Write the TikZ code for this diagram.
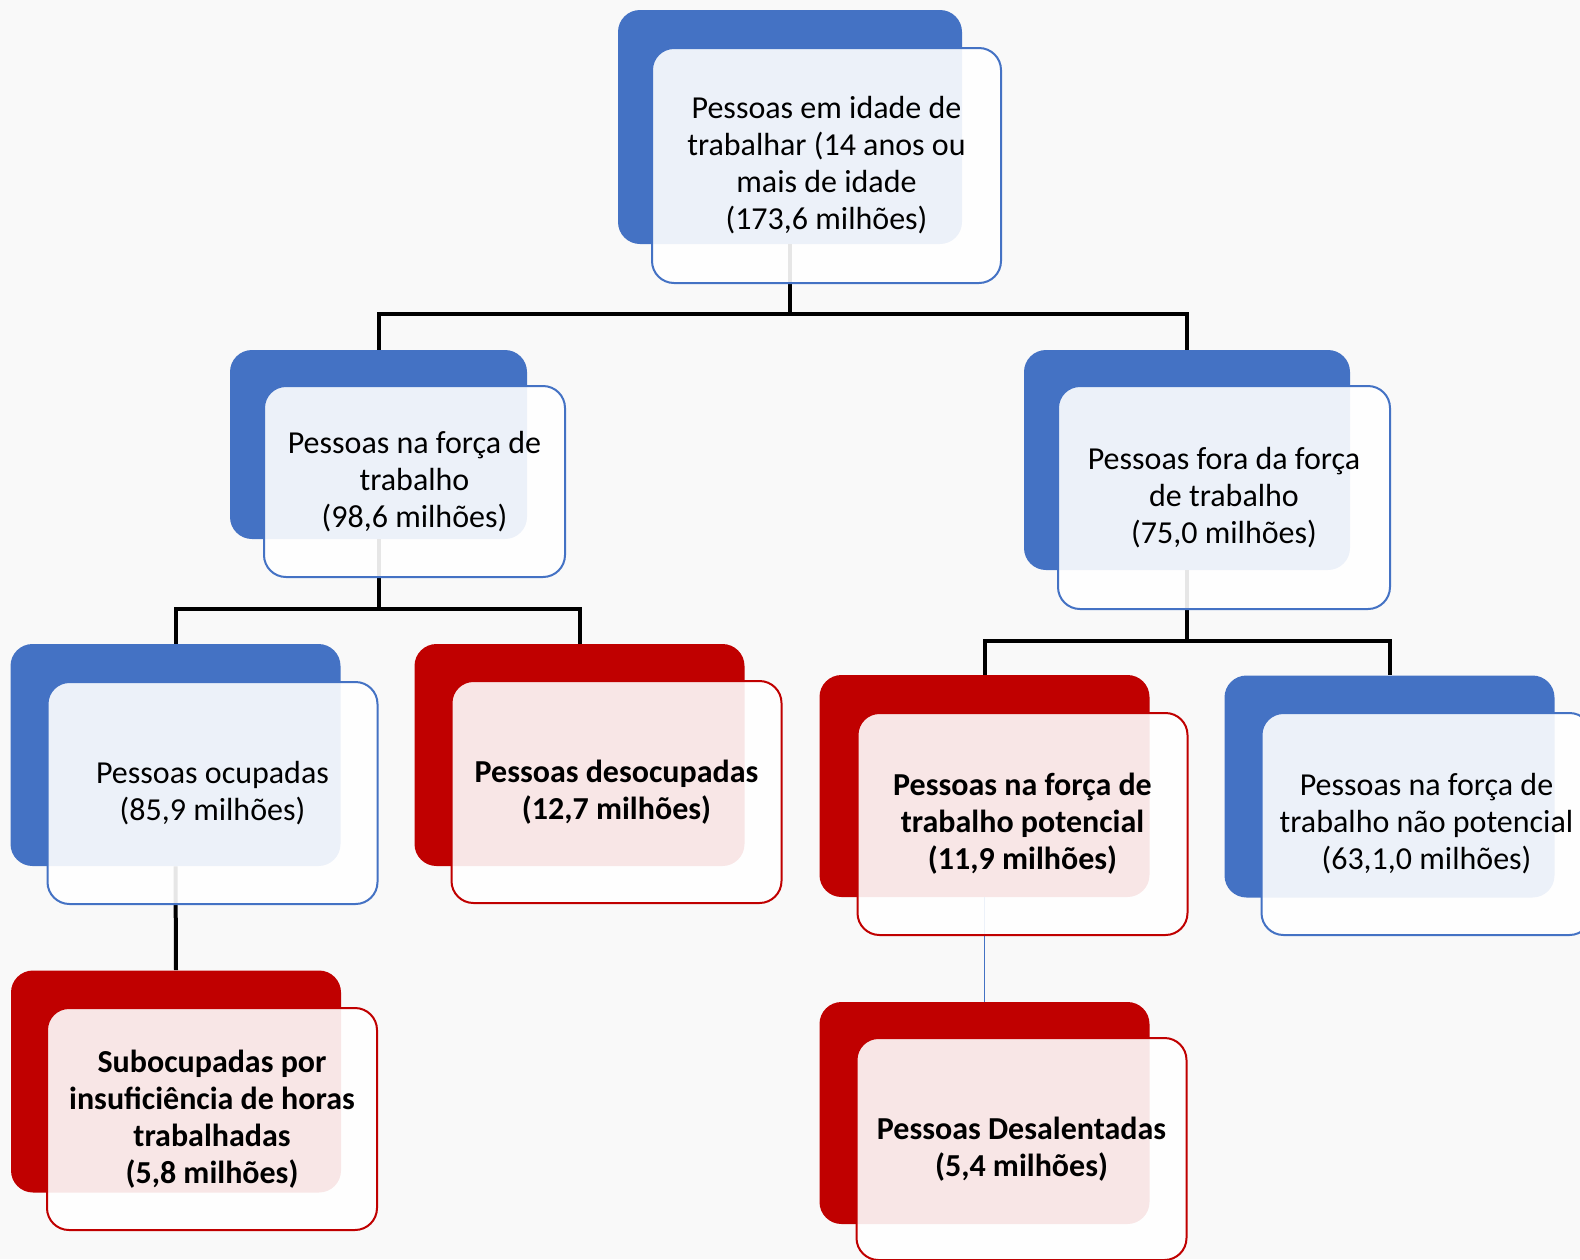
\documentclass[tikz,border=0pt]{standalone}
\usepackage{fontspec}
\setmainfont{Carlito}
\usepackage{tikz}
\definecolor{azul}{HTML}{4472C4}
\definecolor{vermelho}{HTML}{C00000}
\definecolor{fundo}{HTML}{F9F9F9}

\begin{document}
\begin{tikzpicture}[x=0.5pt,y=-0.5pt,
	caixa/.style={rectangle,rounded corners=11pt,inner sep=0pt,
		minimum width=165pt,minimum height=111pt},
	trasA/.style={caixa,fill=azul},
	trasV/.style={caixa,fill=vermelho},
	frenteA/.style={caixa,draw=azul,line width=1pt,fill=white,fill opacity=0.9,
		text opacity=1,align=center,font=\fontsize{16}{18.5}\selectfont},
	frenteV/.style={frenteA,draw=vermelho,font=\fontsize{16}{18.5}\selectfont\bfseries},
	ligacao/.style={line width=2pt,black}]
	
	\useasboundingbox (0,0) rectangle (1580,1259);
	\fill[fundo] (0,0) rectangle (1580,1259);
	\clip (0,0) rectangle (1580,1259);
	
	% caixas de tras
	\node[trasA, minimum width=172pt, minimum height=117pt] (idadeB) at (790,127) {};
	\node[trasA, minimum width=148.5pt, minimum height=94.5pt] (forcaB) at (378.5,444.5) {};
	\node[trasA, minimum width=163pt, minimum height=110pt] (foraB) at (1187,460) {};
	\node[trasA] (ocupB)   at (175.5,755) {};
	\node[trasV] (desocB)  at (579.5,755) {};
	\node[trasV] (potB)    at (984.5,786) {};
	\node[trasA] (naopotB) at (1389.5,786.5) {};
	\node[trasV] (subB)    at (176,1081.5) {};
	\node[trasV] (desalB)  at (984.5,1113) {};
	
	% ligacoes
	\coordinate (barra1) at (790,314);
	\coordinate (barra2) at (378.5,609);
	\coordinate (barra3) at (1187,641);
	\draw[ligacao] (idadeB.south) -- (barra1) -| (forcaB.north);
	\draw[ligacao] (barra1) -| (foraB.north);
	\draw[ligacao] (forcaB.south) -- (barra2) -| (ocupB.north);
	\draw[ligacao] (barra2) -| (desocB.north);
	\draw[ligacao] (foraB.south) -- (barra3) -| (potB.north);
	\draw[ligacao] (barra3) -| (naopotB.north);
	\draw[ligacao] (ocupB.south) -- (subB.north);
	\draw[azul, line width=0.7pt] (potB.south) -- (desalB.north);
	
	% caixas da frente
	\node[frenteA, minimum width=174.5pt, minimum height=117.5pt] (idade) at ([shift={(36.5,38.5)}]idadeB)
		{Pessoas em idade de\\trabalhar (14 anos ou\\mais de idade\\(173,6 milhões)};
	\node[frenteA, minimum width=150.5pt, minimum height=95.5pt] (forca) at ([shift={(36,37)}]forcaB)
		{Pessoas na força de\\trabalho\\(98,6 milhões)};
	\node[frenteA, minimum width=166pt, minimum height=111.5pt] (fora) at ([shift={(37,37.5)}]foraB)
		{Pessoas fora da força\\de trabalho\\(75,0 milhões)};
	\node[frenteA] (ocup) at ([shift={(37,38)}]ocupB) {Pessoas ocupadas\\(85,9 milhões)};
	\node[frenteV] (desoc) at ([shift={(37,37)}]desocB) {Pessoas desocupadas\\(12,7 milhões)};
	\node[frenteV] (pot) at ([shift={(38,38)}]potB)
		{Pessoas na força de\\trabalho potencial\\(11,9 milhões)};
	\node[frenteA] (naopot) at ([shift={(37,37.5)}]naopotB)
		{Pessoas na força de\\trabalho não potencial\\(63,1,0 milhões)};
	\node[frenteV] (sub) at ([shift={(36,37.5)}]subB)
		{Subocupadas por\\insuficiência de horas\\trabalhadas\\(5,8 milhões)};
	\node[frenteV] (desal) at ([shift={(37,36)}]desalB) {Pessoas Desalentadas\\(5,4 milhões)};
\end{tikzpicture}
\end{document}
